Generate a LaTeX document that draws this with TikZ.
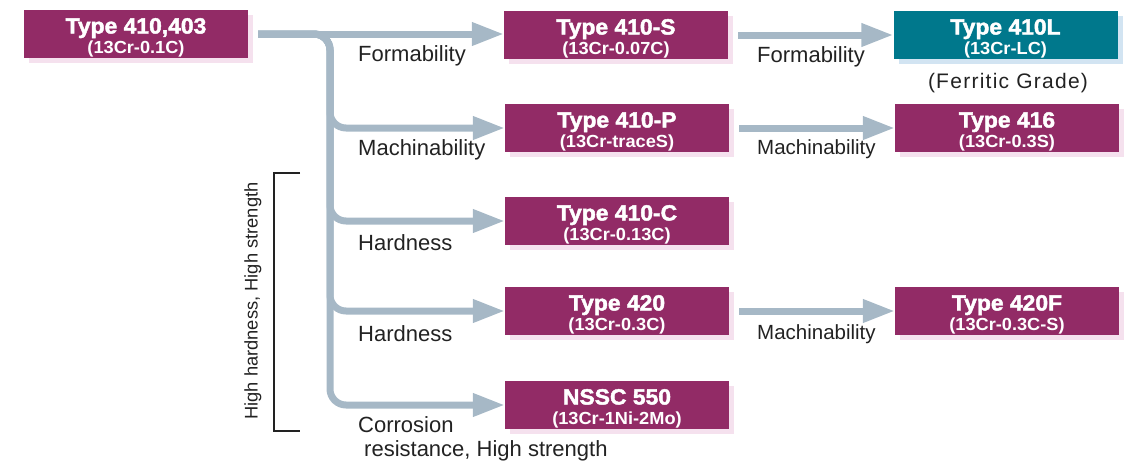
\documentclass[tikz,border=0pt]{standalone}
\usepackage{fontspec}
\setmainfont{Liberation Sans}
\newfontfamily\heavyfont{Liberation Sans}[BoldFeatures={FakeBold=2,FakeStretch=1.04}]
\newfontfamily\subfont{Liberation Sans}[BoldFeatures={FakeStretch=1.04}]
\usetikzlibrary{arrows.meta,shadows,calc}
\definecolor{plum}{HTML}{922B66}
\definecolor{tealbox}{HTML}{00788C}
\definecolor{arrowc}{HTML}{A6B8C6}
\definecolor{pinksh}{HTML}{F5E1EE}
\definecolor{bluesh}{HTML}{D2E4F2}
\definecolor{textc}{HTML}{222222}
\tikzset{
  gbox/.style={fill=plum, minimum width=224pt, minimum height=48pt, inner sep=0pt,
    drop shadow={shadow xshift=5pt, shadow yshift=-5pt, fill=pinksh, opacity=1}},
  tbox/.style={fill=tealbox, minimum width=224pt, minimum height=48pt, inner sep=0pt,
    drop shadow={shadow xshift=5pt, shadow yshift=-5pt, fill=bluesh, opacity=1}},
  titletext/.style={text=white, font=\heavyfont\bfseries\fontsize{22}{24}\selectfont, inner sep=0pt},
  subtext/.style={text=white, font=\subfont\bfseries\fontsize{17.5}{19}\selectfont, inner sep=0pt},
  conn/.style={draw=arrowc, line width=7pt, -{Triangle[length=32pt,width=22pt]}},
  lbl/.style={font=\fontsize{22}{24}\selectfont, text=textc, inner sep=0pt, anchor=base west},
  lblsm/.style={font=\fontsize{20.5}{22}\selectfont, text=textc, inner sep=0pt, anchor=base west},
}
\newcommand\gradebox[6]{%
  \node[#6] (#1) at (#2,#3) {};
  \node[titletext, anchor=base] (#1-t) at (#2,#3-0.5) {#4};
  \node[subtext, anchor=base] (#1-s) at (#2,#3+19) {#5};
}
\begin{document}
\begin{tikzpicture}[x=1pt,y=-1pt]
\useasboundingbox (0,0) rectangle (1128,464);

\gradebox{t0}{136}{34}{Type 410,403}{(13Cr-0.1C)}{gbox}
\gradebox{t1}{616}{35}{Type 410-S}{(13Cr-0.07C)}{gbox}
\gradebox{t1b}{1005.5}{35}{Type 410L}{(13Cr-LC)}{tbox}
\gradebox{t2}{617}{128}{Type 410-P}{(13Cr-traceS)}{gbox}
\gradebox{t2b}{1007}{128}{Type 416}{(13Cr-0.3S)}{gbox}
\gradebox{t3}{617}{221}{Type 410-C}{(13Cr-0.13C)}{gbox}
\gradebox{t4}{617}{311}{Type 420}{(13Cr-0.3C)}{gbox}
\gradebox{t4b}{1007}{311}{Type 420F}{(13Cr-0.3C-S)}{gbox}
\gradebox{t5}{617}{405}{NSSC 550}{(13Cr-1Ni-2Mo)}{gbox}

\coordinate (tr) at (330,34);

% trunk branches
\draw[conn, rounded corners=16pt, shorten <=10pt] (t0.east) -| (tr |- t5.west) -- (t5.west);
\draw[conn, rounded corners=16pt, shorten <=10pt] (t0.east) -| (tr |- t4.west) -- (t4.west);
\draw[conn, rounded corners=16pt, shorten <=10pt] (t0.east) -| (tr |- t3.west) -- (t3.west);
\draw[conn, rounded corners=16pt, shorten <=10pt] (t0.east) -| (tr |- t2.west) -- (t2.west);
\draw[conn, shorten <=10pt] (t0.east) -- (t0.east -| t1.west);

% second column
\draw[conn, shorten <=10pt] (t1.east) -- (t1b.west);
\draw[conn, shorten <=10pt] (t2.east) -- (t2b.west);
\draw[conn, shorten <=10pt] (t4.east) -- (t4b.west);

% labels
\node[lbl] (lf1) at (358,61) {Formability};
\node[lbl] (lf2) at (757,62) {Formability};
\node[font=\fontsize{21}{23}\selectfont\addfontfeature{LetterSpace=6}, text=textc, inner sep=0pt, anchor=base] (ferr) at (1008,88) {(Ferritic Grade)};
\node[lbl] (lm1) at (358,155) {Machinability};
\node[lblsm] (lm2) at (757,154) {Machinability};
\node[lbl] (lh1) at (358,250) {Hardness};
\node[lbl] (lh2) at (358,341) {Hardness};
\node[lblsm] (lm3) at (757,339) {Machinability};
\node[lbl] (lc1) at (358,432) {Corrosion};
\node[lbl] (lc2) at (364,456) {resistance, High strength};

% bracket
\coordinate (bt) at (300,173);
\coordinate (bb) at (300,431);
\draw[textc, line width=1.3pt] (bt) -- (274,173) -- (274,431) -- (bb);
\node[rotate=90, font=\fontsize{18.3}{20}\selectfont, text=textc, inner sep=0pt] (side) at (253,301) {High hardness, High strength};
\end{tikzpicture}
\end{document}
